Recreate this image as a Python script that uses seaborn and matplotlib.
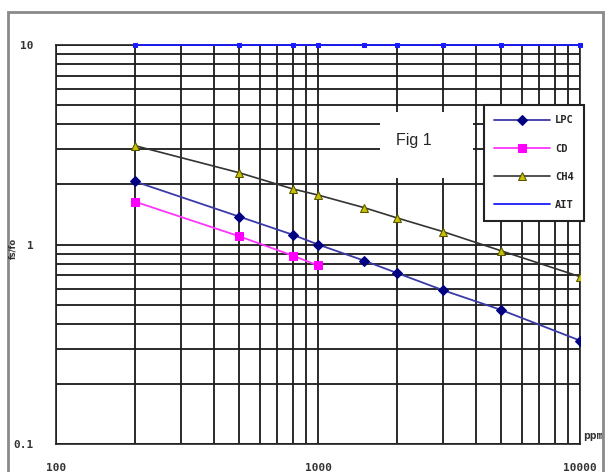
import numpy as np
import pandas as pd
import seaborn as sns
import matplotlib.pyplot as plt
from matplotlib.patches import Rectangle
from matplotlib.lines import Line2D
from matplotlib.ticker import LogLocator, NullFormatter, FixedLocator

# values
ppm = [200, 500, 800, 1000, 1500, 2000, 3000, 5000, 10000]
lpc = [2.07, 1.38, 1.12, 1.0, 0.83, 0.72, 0.59, 0.47, 0.33]
ppm_cd = [200, 500, 800, 1000]
cd = [1.64, 1.10, 0.88, 0.785]
ch4 = [3.13, 2.29, 1.90, 1.77, 1.53, 1.36, 1.16, 0.93, 0.69]
ait = [10, 10, 10, 10, 10, 10, 10, 10, 10]

sns.set_style('white')
plt.rcParams['font.family'] = ['DejaVu Sans']

fig = plt.figure(figsize=(6.07, 4.72), dpi=100)
ax = fig.add_axes([56/607, 1-444/472, 524/607, 399/472])

tick_font = dict(family='DejaVu Sans Mono', weight='bold', size=8, color='#333333')

# outer chart frame
fig.patches.append(Rectangle((8/607, -0.02), 595/607, 1-12/472+0.02,
                             transform=fig.transFigure, fill=False,
                             edgecolor='#8a8a8a', lw=2))

sns.lineplot(x=ppm, y=ait, ax=ax, color='#1a1aff', lw=1.3, marker='s', ms=3,
             mec='#1a1aff', label='AIT', clip_on=False, zorder=5)
sns.lineplot(x=ppm, y=ch4, ax=ax, color='#333333', lw=1.2, marker='^', ms=6,
             mfc='#c8c000', mec='#555500', label='CH4', zorder=5)
sns.lineplot(x=ppm_cd, y=cd, ax=ax, color='#ff33ff', lw=1.3, marker='s', ms=6,
             mfc='#ff00ff', mec='#ff00ff', label='CD', zorder=5)
sns.lineplot(x=ppm, y=lpc, ax=ax, color='#3a3aa8', lw=1.3, marker='D', ms=5,
             mfc='#000080', mec='#000080', label='LPC', zorder=5)

ax.set_xscale('log')
ax.set_yscale('log')
ax.set_xlim(100, 10000)
ax.set_ylim(0.1, 10)

ax.xaxis.set_major_locator(FixedLocator([100, 1000, 10000]))
ax.yaxis.set_major_locator(FixedLocator([0.1, 1, 10]))
ax.xaxis.set_minor_locator(LogLocator(base=10, subs=range(2, 10)))
ax.yaxis.set_minor_locator(LogLocator(base=10, subs=range(2, 10)))
ax.xaxis.set_minor_formatter(NullFormatter())
ax.yaxis.set_minor_formatter(NullFormatter())
ax.set_xticklabels(['100', '1000', '10000'], **tick_font)
ax.set_yticklabels(['0.1', '1', '10'], **tick_font)
ax.tick_params(axis='x', which='both', length=0, pad=14)
ax.tick_params(axis='y', which='both', length=0, pad=16)

ax.grid(which='both', color='#1a1a1a', lw=1.3)
for s in ax.spines.values():
    s.set_color('#222222')
    s.set_linewidth(1.2)

ax.set_xlabel('')
ax.set_ylabel('')
fig.text(13/607, 1-248/472, 'fs/fo', rotation=90, ha='center', va='center',
         fontsize=6, family='DejaVu Sans', weight='bold', color='#333333')

# white text box with figure label
ax.add_patch(Rectangle((0.618, 0.667), 0.178, 0.165, transform=ax.transAxes,
                       facecolor='white', edgecolor='none', zorder=3))
ax.text(0.683, 0.76, 'Fig 1', transform=ax.transAxes, fontsize=11.5,
        family='Liberation Sans', ha='center', va='center', zorder=4)

ax.text(583/607, 1-436/472, 'ppm', transform=fig.transFigure, ha='left',
        va='center', **tick_font)

h, l = ax.get_legend_handles_labels()
handles = [h[l.index(n)] for n in ['LPC', 'CD', 'CH4']]
handles.append(Line2D([], [], color='#1a1aff', lw=1.3))
leg = ax.legend(handles, ['LPC', 'CD', 'CH4', 'AIT'],
                loc='upper left', bbox_to_anchor=(484/607, 1-105/472),
                bbox_transform=fig.transFigure, borderaxespad=0,
                frameon=True, fancybox=False,
                edgecolor='#222222', framealpha=1, borderpad=1.0,
                labelspacing=1.75, handlelength=5.3, handletextpad=0.5,
                prop=dict(family='DejaVu Sans Mono', weight='bold', size=7.5))
leg.get_frame().set_linewidth(1.5)
leg.set_zorder(10)

fig.savefig('out.png', dpi=100)
